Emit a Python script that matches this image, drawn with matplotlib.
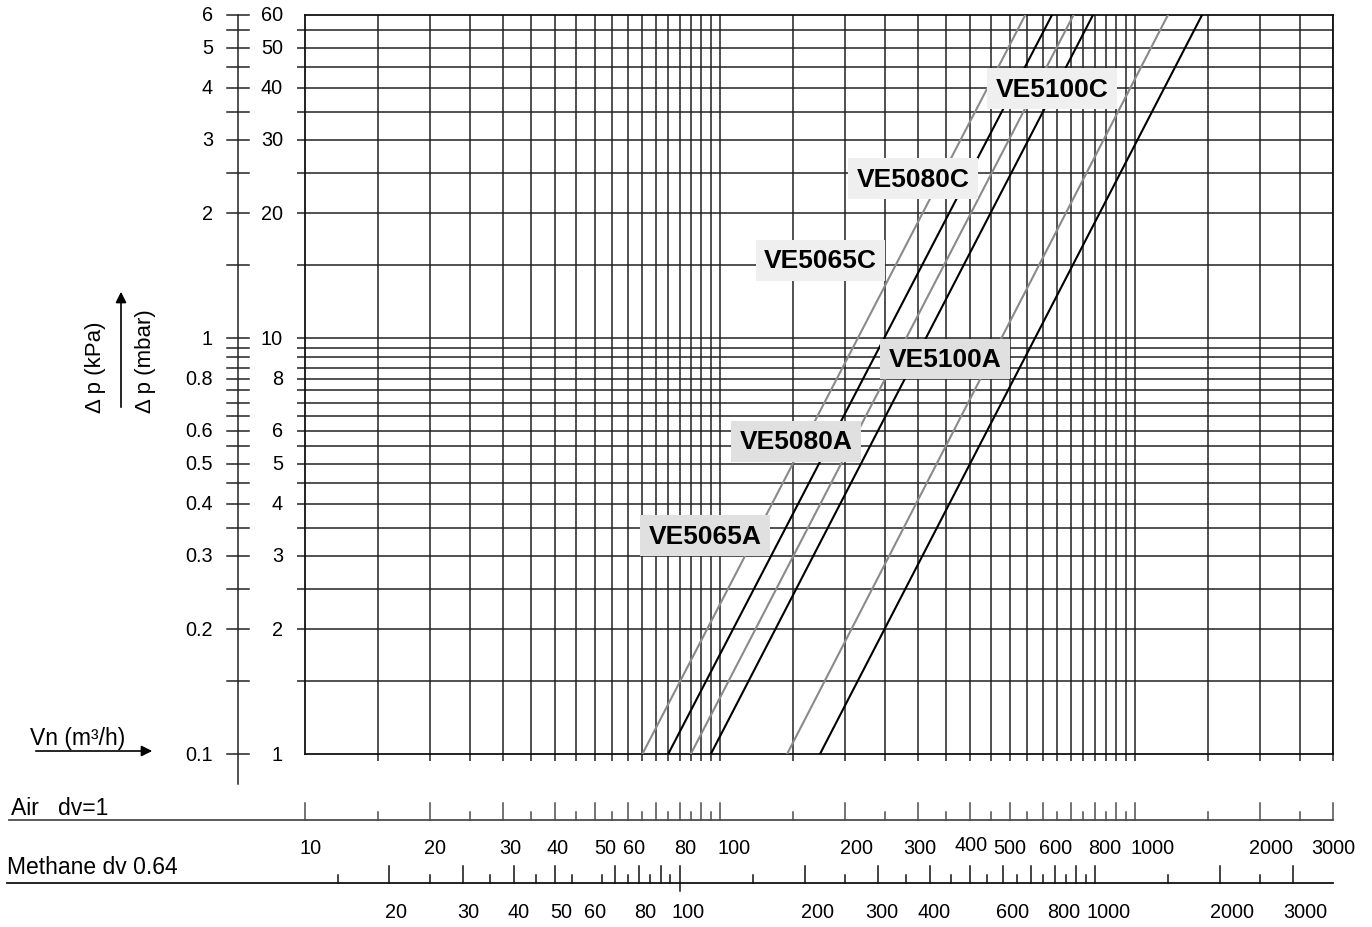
import numpy as np
import matplotlib
matplotlib.use("Agg")
import matplotlib.pyplot as plt
from matplotlib.transforms import offset_copy

plt.rcParams['font.family'] = ['Liberation Sans', 'DejaVu Sans']

# valve curves: air flow (m3/h) read at 1 mbar and at 60 mbar
valves = ["VE5065C", "VE5065A", "VE5080C", "VE5080A", "VE5100C", "VE5100A"]
dp_ends = [1, 60]
flow_at_1mbar = [65, 75, 85, 95, 145, 174]
flow_at_60mbar = [544, 631, 711, 792, 1200, 1450]

# tick labels of the scales
mbar_labels = [1, 2, 3, 4, 5, 6, 8, 10, 20, 30, 40, 50, 60]
air_labels = [10, 20, 30, 40, 50, 60, 80, 100, 200, 300, 400, 500, 600, 800, 1000, 2000, 3000]
methane_labels = [20, 30, 40, 50, 60, 80, 100, 200, 300, 400, 600, 800, 1000, 2000, 3000]
methane_dv = 0.64

# where the valve names sit (data coords: air flow, mbar)
label_x = [174.7, 92.1, 292, 152.5, 631, 348.5]
label_y = [15.4, 3.35, 24.2, 5.65, 39.8, 8.92]

# hand placement of the flow-scale labels in the drawing (px to the right of the tick)
air_nudge = {10: 6, 20: 5, 30: 7, 40: 3, 50: 10, 60: 6, 80: 5, 100: 14, 200: 12, 300: 2,
             400: 1, 500: 0, 600: 13, 800: 10, 1000: 17, 2000: 11, 3000: 0}
methane_nudge = {20: 7, 30: 6, 40: 4, 50: 7, 60: 7, 80: 6, 100: 8, 200: 13, 300: 4,
                 400: 4, 600: 10, 800: 9, 1000: 14, 2000: 12, 3000: 12}

# half-step scale values (1, 1.5, 2, ... 9.5 per decade)
steps = np.arange(1, 10, 0.5)
air_ticks = [round(m * d, 1) for d in (10, 100, 1000) for m in steps if m * d <= 3000]
methane_ticks = [round(m * d, 1) for d in (10, 100, 1000) for m in steps
                 if 15 <= m * d <= 3000 and m * d != 60]
dp_ticks = [round(m * d, 2) for d in (1, 10) for m in steps if m * d <= 60]

W, H = 1372, 928
L, R, T, B = 304.7, 1333.3, 15.7, 755.3

fig = plt.figure(figsize=(W / 100, H / 100), dpi=100)
ax = fig.add_axes([L / W, 1 - B / H, (R - L) / W, (B - T) / H])
ax.set_xscale('log')
ax.set_yscale('log')


def axx(px):
    return (px - L) / (R - L)


def ayy(py):
    return (B - py) / (B - T)


def is_whole(v):
    return float(v / 10 ** np.floor(np.log10(v))).is_integer()


grid_col = '#222222'
ax.set_xticks([v for v in air_ticks if v > 10])
ax.set_xticks([], minor=True)
ax.set_yticks([v for v in dp_ticks if 1 < v < 60])
ax.set_yticks([], minor=True)
ax.tick_params(axis='x', direction='out', length=5, width=1.1, color=grid_col, labelbottom=False)
ax.tick_params(axis='y', direction='out', length=5.8, width=1.1, color=grid_col, labelleft=False)
ax.grid(True, which='major', color=grid_col, lw=1.1)
for s in ax.spines.values():
    s.set_color('#111111')
    s.set_linewidth(1.3)

# valve curves
for i, name in enumerate(valves):
    col = '#8a8a8a' if name.endswith('C') else 'black'
    ax.plot([flow_at_1mbar[i], flow_at_60mbar[i]], dp_ends, color=col, lw=1.5, zorder=3)
    box_col = '#efefef' if name.endswith('C') else '#e0e0e0'
    ax.text(label_x[i], label_y[i], name, fontsize=19, fontweight='bold', ha='center', va='center',
            zorder=5, bbox=dict(boxstyle='square,pad=0.32', fc=box_col, ec='none'))

# left pressure scale (kPa | mbar)
ytr = ax.get_yaxis_transform()
ax.plot([axx(238), axx(238)], [ayy(785), 1.0], transform=ax.transAxes, clip_on=False,
        color=grid_col, lw=1.1)
for v in dp_ticks:
    ax.plot([axx(227), axx(249)], [v, v], transform=ytr, clip_on=False, color=grid_col, lw=1.1)
for v in mbar_labels:
    ax.text(axx(283), v, f"{v:g}", transform=ytr, ha='right', va='center', fontsize=14.3)
    ax.text(axx(213), v, f"{v / 10:g}", transform=ytr, ha='right', va='center', fontsize=14.3)

# bottom flow scales
xtr = ax.get_xaxis_transform()
air_col = '#4d4d4d'
ax.plot([axx(9), 1.0], [ayy(821)] * 2, transform=ax.transAxes, clip_on=False, color=air_col, lw=1.3)
for v in air_ticks:
    top = 804 if is_whole(v) else 813
    ax.plot([v, v], [ayy(821), ayy(top)], transform=xtr, clip_on=False, color=air_col, lw=1.1)
for v in air_labels:
    dy = 3 if v == 400 else 0
    tr = offset_copy(xtr, fig=fig, x=air_nudge[v], y=dy, units='dots')
    ax.text(v, ayy(848.5), str(v), transform=tr, ha='center', va='center', fontsize=14.3)

scale = np.sqrt(methane_dv)
ax.plot([axx(7), 1.0], [ayy(884.3)] * 2, transform=ax.transAxes, clip_on=False, color='#111111', lw=1.3)
for v in methane_ticks:
    top = 867 if is_whole(v) else 876
    bot = 892 if v == 100 else 884.3
    ax.plot([v * scale] * 2, [ayy(bot), ayy(top)], transform=xtr, clip_on=False, color='#111111', lw=1.1)
for v in methane_labels:
    tr = offset_copy(xtr, fig=fig, x=methane_nudge[v], y=0, units='dots')
    ax.text(v * scale, ayy(913), str(v), transform=tr, ha='center', va='center', fontsize=14.3)

fig.text(11 / W, 1 - 815 / H, "Air   dv=1", fontsize=16.5, va='baseline')
fig.text(7 / W, 1 - 874 / H, "Methane dv 0.64", fontsize=16.5, va='baseline')

# axis captions with arrows
fig.text(96 / W, 1 - 413 / H, "\u0394 p (kPa)", rotation=90, ha='center', va='bottom', fontsize=16)
fig.text(145 / W, 1 - 413 / H, "\u0394 p (mbar)", rotation=90, ha='center', va='bottom', fontsize=16)
ax.annotate('', xy=(121, H - 290), xytext=(121, H - 411), xycoords='figure pixels',
            textcoords='figure pixels',
            arrowprops=dict(arrowstyle='-|>', color='black', lw=1.2, mutation_scale=16))
fig.text(30 / W, 1 - 745 / H, "Vn (m\u00b3/h)", fontsize=16.5, va='baseline')
ax.annotate('', xy=(155, H - 752), xytext=(33, H - 752), xycoords='figure pixels',
            textcoords='figure pixels',
            arrowprops=dict(arrowstyle='-|>', color='black', lw=1.2, mutation_scale=16))

ax.set_xlim(10, 3000)
ax.set_ylim(1, 60)

fig.savefig('out.png', dpi=100)
